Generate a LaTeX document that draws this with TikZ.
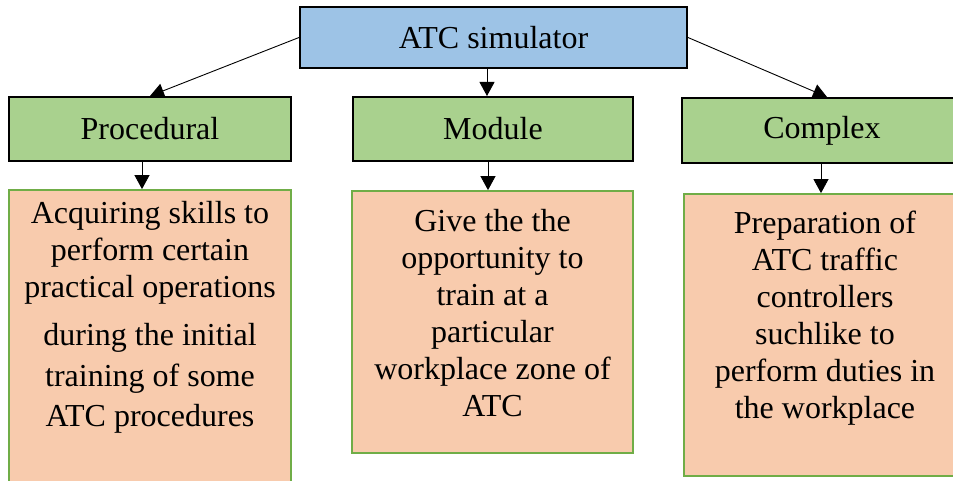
\documentclass[tikz,border=0pt]{standalone}
\usepackage{fontspec}
\setmainfont{Liberation Serif}
\usetikzlibrary{arrows.meta}
\definecolor{topblue}{HTML}{9DC3E6}
\definecolor{midgreen}{HTML}{A9D18E}
\definecolor{txtorange}{HTML}{F8CBAD}
\definecolor{edgegreen}{HTML}{70AD47}
\tikzset{
  headbox/.style={draw=black, line width=2pt, fill=#1, inner sep=0pt,
    font=\fontsize{32}{37}\selectfont},
  textbox/.style={draw=edgegreen, line width=1.8pt, fill=txtorange, inner sep=0pt},
  bodytext/.style={align=center, inner sep=0pt, anchor=base,
    font=\fontsize{32}{37}\selectfont},
  arr/.style={line width=0.9pt, -{Triangle[length=14pt,width=15pt]}}
}
\begin{document}
\begin{tikzpicture}[x=1pt,y=-1pt]
\useasboundingbox (0,0) rectangle (953,481);
% top
\node[headbox=topblue, minimum width=387pt, minimum height=61pt] (atc) at (493.5,37.5) {ATC simulator};
% middle
\node[headbox=midgreen, minimum width=282pt, minimum height=64pt] (proc) at (150,129) {Procedural};
\node[headbox=midgreen, minimum width=280pt, minimum height=64pt] (mod) at (493,129) {Module};
\node[headbox=midgreen, minimum width=280pt, minimum height=65pt] (cplx) at (822,130.5) {Complex};
% text boxes
\node[textbox, minimum width=282pt, minimum height=294pt] (proct) at (150,337) {};
\node[textbox, minimum width=281pt, minimum height=262pt] (modt) at (492.5,322) {};
\node[textbox, minimum width=278pt, minimum height=282pt] (cplxt) at (823,335) {};
% texts (anchor=base sits on the last line's baseline)
\node[bodytext] (proctx) at (150,426) {Acquiring skills to\\perform certain\\practical operations\\[11pt]during the initial\\[4pt]training of some\\[3pt]ATC procedures};
\node[bodytext] (modtx) at (492.5,416) {Give the the\\opportunity to\\train at a\\particular\\workplace zone of\\ATC};
\node[bodytext] (cplxtx) at (825,418) {Preparation of\\ATC traffic\\controllers\\suchlike to\\perform duties in\\the workplace};
% arrows
\draw[arr] (atc.west) -- (proc.north);
\draw[arr] ([xshift=-6.5pt]atc.south) -- ([xshift=-6pt]mod.north);
\draw[arr] (atc.east) -- ([xshift=5pt]cplx.north);
\draw[arr] ([xshift=-8pt]proc.south) -- ([xshift=-8pt]proct.north);
\draw[arr] ([xshift=-5pt]mod.south) -- ([xshift=-4.5pt]modt.north);
\draw[arr] ([xshift=-1pt]cplx.south) -- ([xshift=-2pt]cplxt.north);
\end{tikzpicture}
\end{document}
